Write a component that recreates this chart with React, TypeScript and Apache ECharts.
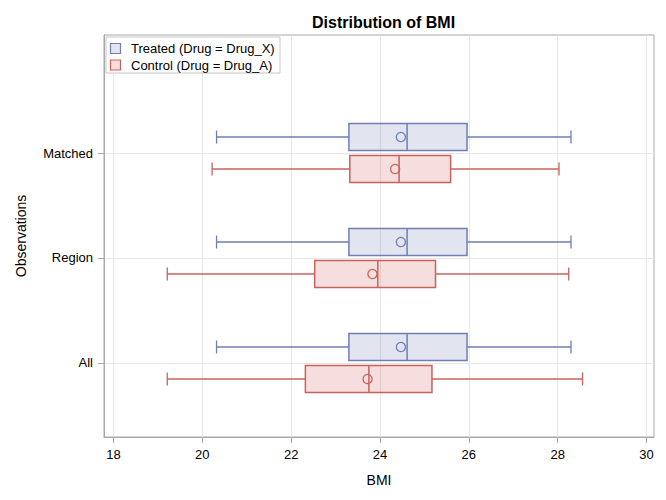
import React, { useEffect, useRef } from "react";
import * as echarts from "echarts";

const categories = ["All", "Region", "Matched"];
const xTicks = [18, 20, 22, 24, 26, 28, 30];

// Treated (Drug = Drug_X)
const treatedMin = [20.32, 20.32, 20.32];
const treatedQ1 = [23.3, 23.3, 23.3];
const treatedMedian = [24.61, 24.61, 24.61];
const treatedQ3 = [25.96, 25.96, 25.96];
const treatedMax = [28.3, 28.3, 28.3];
const treatedMean = [24.47, 24.47, 24.47];

// Control (Drug = Drug_A)
const controlMin = [19.21, 19.21, 20.22];
const controlQ1 = [22.32, 22.53, 23.32];
const controlMedian = [23.75, 23.95, 24.43];
const controlQ3 = [25.17, 25.25, 25.59];
const controlMax = [28.56, 28.25, 28.03];
const controlMean = [23.72, 23.83, 24.34];

const FONT = "'Liberation Sans', Arial, sans-serif";
const BLUE = "#6F7EB3";
const BLUE_FILL = "rgba(111,126,179,0.2)";
const RED = "#C8625D";
const RED_FILL = "rgba(208,91,91,0.2)";

function buildData(mn: number[], q1: number[], md: number[], q3: number[], mx: number[], mean: number[]) {
  return categories.map((_, i) => [i, mn[i], q1[i], md[i], q3[i], mx[i], mean[i]]);
}

function makeRender(offset: number, stroke: string, fill: string) {
  return (params: any, api: any) => {
    const ci = api.value(0);
    const yc = api.coord([api.value(1), ci])[1] + offset;
    const x = [1, 2, 3, 4, 5, 6].map((k) => api.coord([api.value(k), ci])[0]);
    const [xMin, xQ1, xMed, xQ3, xMax, xMean] = x;
    const hh = 13.5;
    const cap = 6.5;
    const ls = { stroke, lineWidth: 1.3, fill: "none" };
    return {
      type: "group",
      children: [
        { type: "line", shape: { x1: xMin, y1: yc, x2: xQ1, y2: yc }, style: ls },
        { type: "line", shape: { x1: xQ3, y1: yc, x2: xMax, y2: yc }, style: ls },
        { type: "line", shape: { x1: xMin, y1: yc - cap, x2: xMin, y2: yc + cap }, style: ls },
        { type: "line", shape: { x1: xMax, y1: yc - cap, x2: xMax, y2: yc + cap }, style: ls },
        {
          type: "rect",
          shape: { x: xQ1, y: yc - hh, width: xQ3 - xQ1, height: 2 * hh },
          style: { fill, stroke, lineWidth: 1.5 },
        },
        { type: "line", shape: { x1: xMed, y1: yc - hh, x2: xMed, y2: yc + hh }, style: { stroke, lineWidth: 1.5 } },
        { type: "circle", shape: { cx: xMean, cy: yc, r: 4.6 }, style: { stroke, lineWidth: 1.3, fill: "none" } },
      ],
    };
  };
}

export default function App() {
  const ref = useRef<HTMLDivElement>(null);
  useEffect(() => {
    if (!ref.current) return;
    const chart = echarts.init(ref.current, undefined, { renderer: "svg" });
    chart.setOption({
      animation: false,
      backgroundColor: "#fff",
      textStyle: { fontFamily: FONT },
      title: {
        text: "Distribution of BMI",
        left: 307,
        top: 9,
        textStyle: { fontFamily: FONT, fontSize: 16, fontWeight: "bold", color: "#000" },
      },
      grid: {
        left: 104,
        right: 12,
        top: 35,
        bottom: 63,
        show: true,
        borderColor: "#A8A8A8",
        borderWidth: 1,
        backgroundColor: "transparent",
      },
      xAxis: {
        type: "value",
        min: 17.786,
        max: 30.169,
        name: "BMI",
        nameLocation: "middle",
        nameGap: 36,
        nameTextStyle: { fontFamily: FONT, fontSize: 14, color: "#000" },
        axisLine: { show: true, onZero: false, lineStyle: { color: "#A8A8A8" } },
        axisTick: { show: true, length: 6, customValues: xTicks, lineStyle: { color: "#A8A8A8" } },
        axisLabel: {
          customValues: xTicks,
          fontFamily: FONT,
          fontSize: 13,
          color: "#000",
          margin: 11,
        },
        splitLine: { show: true, lineStyle: { color: "#E6E6E6", width: 1 } },
      },
      yAxis: {
        type: "value",
        min: -0.705,
        max: 3.124,
        name: "Observations",
        nameLocation: "middle",
        nameGap: 76,
        nameRotate: 90,
        nameTextStyle: { fontFamily: FONT, fontSize: 14, color: "#000" },
        axisLine: { show: true, onZero: false, lineStyle: { color: "#A8A8A8" } },
        axisTick: { show: true, length: 6, customValues: [0, 1, 2], lineStyle: { color: "#A8A8A8" } },
        axisLabel: {
          customValues: [0, 1, 2],
          formatter: (v: number) => categories[Math.round(v)] ?? "",
          fontFamily: FONT,
          fontSize: 13,
          color: "#000",
          margin: 11,
        },
        splitLine: { show: true, lineStyle: { color: "#E6E6E6", width: 1 } },
      },
      series: [
        {
          type: "custom",
          name: "Treated (Drug = Drug_X)",
          renderItem: makeRender(-16, BLUE, BLUE_FILL),
          encode: { x: [1, 2, 3, 4, 5, 6], y: 0 },
          data: buildData(treatedMin, treatedQ1, treatedMedian, treatedQ3, treatedMax, treatedMean),
          silent: true,
        },
        {
          type: "custom",
          name: "Control (Drug = Drug_A)",
          renderItem: makeRender(16, RED, RED_FILL),
          encode: { x: [1, 2, 3, 4, 5, 6], y: 0 },
          data: buildData(controlMin, controlQ1, controlMedian, controlQ3, controlMax, controlMean),
          silent: true,
        },
      ],
      graphic: [
        {
          type: "rect",
          shape: { x: 106, y: 37, width: 174, height: 36 },
          style: { fill: "#fff", stroke: "#C8C8C8", lineWidth: 1 },
          z: 10,
        },
        {
          type: "rect",
          shape: { x: 110.5, y: 43.5, width: 10, height: 10 },
          style: { fill: "#E2E5F0", stroke: BLUE, lineWidth: 1.2 },
          z: 11,
        },
        {
          type: "text",
          x: 131,
          y: 48.5,
          style: {
            text: "Treated (Drug = Drug_X)",
            fontFamily: FONT,
            fontSize: 13,
            fill: "#000",
            verticalAlign: "middle",
          },
          z: 11,
        },
        {
          type: "rect",
          shape: { x: 110.5, y: 60, width: 10, height: 10 },
          style: { fill: "#F6DEDE", stroke: RED, lineWidth: 1.2 },
          z: 11,
        },
        {
          type: "text",
          x: 131,
          y: 65,
          style: {
            text: "Control (Drug = Drug_A)",
            fontFamily: FONT,
            fontSize: 13,
            fill: "#000",
            verticalAlign: "middle",
          },
          z: 11,
        },
      ],
    });
    return () => chart.dispose();
  }, []);
  return <div ref={ref} style={{ position: "fixed", left: 0, top: 0, width: 666, height: 500 }} />;
}
